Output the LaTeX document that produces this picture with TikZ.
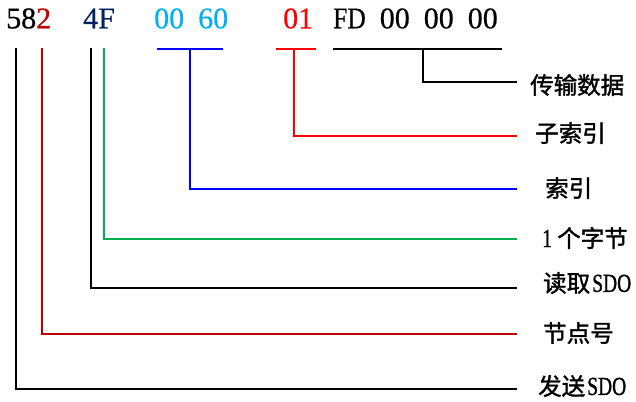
\documentclass[tikz,border=0pt]{standalone}
\usepackage{fontspec}
\setmainfont{Liberation Serif}
\newfontfamily\cjk[FakeBold=1.5]{Noto Sans CJK SC}
\newfontfamily\narrowserif[FakeStretch=0.75,FakeBold=1]{Liberation Serif}
\newfontfamily\hexfont[FakeBold=0.6]{Liberation Serif}
\newfontfamily\hexletters[FakeStretch=0.85,FakeBold=0.6]{Liberation Serif}
\definecolor{darkred}{HTML}{C00000}
\definecolor{navyc}{HTML}{002060}
\definecolor{cyanc}{HTML}{00B0F0}
\definecolor{greenc}{HTML}{00B050}
\definecolor{redc}{HTML}{FF0000}
\definecolor{bluec}{HTML}{0000FF}
\newcommand{\gapsp}{\hspace{14pt}}
\tikzset{
  hexs/.style={font=\hexfont\fontsize{30}{34}\selectfont, anchor=base west, inner sep=0pt},
  lab/.style={font=\cjk\fontsize{23.5}{26}\selectfont, anchor=west, inner sep=0pt},
  conn/.style={line width=1.2pt},
}
\begin{document}
\begin{tikzpicture}[x=1pt,y=-1pt]
\useasboundingbox (0,0) rectangle (636,401);
% top hex bytes
\node[hexs] (h1) at (6,28.3) {58{\color{darkred}2}};
\node[hexs, text=navyc] (h2) at (83,28.3) {4F};
\node[hexs, text=cyanc] (h3) at (154,28.3) {00\gapsp 60};
\node[hexs, text=redc] (h4) at (283,28.3) {01};
\node[hexs] (h5) at (333,28.3) {{\hexletters FD}\gapsp 00\gapsp 00\gapsp 00};
% tick / bracket coordinates
\coordinate (t1) at (16,48);
\coordinate (t2) at (42,48);
\coordinate (t3) at (91,48);
\coordinate (t4) at (104,48);
\coordinate (b5l) at (157,49);
\coordinate (b5r) at (223,49);
\coordinate (t5) at (190,49);
\coordinate (b6l) at (276,49);
\coordinate (b6r) at (316,49);
\coordinate (t6) at (294,49);
\coordinate (b7l) at (333,49);
\coordinate (b7r) at (502,49);
\coordinate (t7) at (423,49);
% line ends
\coordinate (e1) at (517,389);
\coordinate (e2) at (517,334);
\coordinate (e3) at (517,288);
\coordinate (e4) at (517,239);
\coordinate (e5) at (517,189);
\coordinate (e6) at (517,136);
\coordinate (e7) at (517,82);
% labels
\node[lab] (l7) at (530,85) {传输数据};
\node[lab] (l6) at (535,133) {子索引};
\node[lab] (l5) at (545,188) {索引};
\node[lab] (l4) at (542,238) {{\narrowserif\fontsize{26}{28}\selectfont 1} 个字节};
\node[lab] (l3) at (543,283) {读取\hspace{2pt}{\narrowserif\fontsize{26}{28}\selectfont SDO}};
\node[lab] (l2) at (543,333) {节点号};
\node[lab] (l1) at (538,386) {发送\hspace{2pt}{\narrowserif\fontsize{26}{28}\selectfont SDO}};
% connectors
\draw[conn, black] (t1) |- (e1);
\draw[conn, darkred] (t2) |- (e2);
\draw[conn, black] (t3) |- (e3);
\draw[conn, greenc] (t4) |- (e4);
\draw[conn, bluec] (b5l) -- (b5r);
\draw[conn, bluec] (t5) |- (e5);
\draw[conn, redc] (b6l) -- (b6r);
\draw[conn, redc] (t6) |- (e6);
\draw[conn, black] (b7l) -- (b7r);
\draw[conn, black] (t7) |- (e7);
\end{tikzpicture}
\end{document}
